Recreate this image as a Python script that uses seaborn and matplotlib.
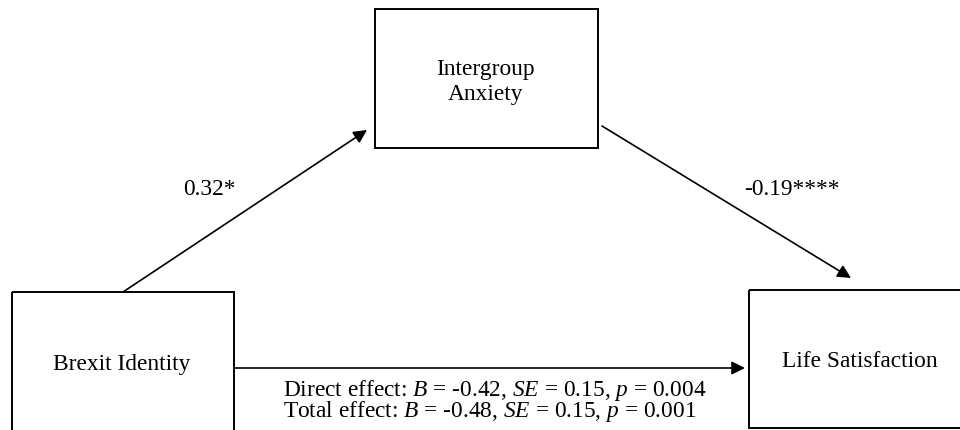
import matplotlib.pyplot as plt
from matplotlib.patches import Rectangle
import seaborn as sns

# mediation model
node_names = ["Brexit Identity", "Intergroup\nAnxiety", "Life Satisfaction"]
path_a = "0.32*"
path_b = "-0.19****"
direct_B, direct_SE, direct_p = "-0.42", "0.15", "0.004"
total_B, total_SE, total_p = "-0.48", "0.15", "0.001"

# layout in pixels (x0, y0, x1, y1), y grows downward
boxes = [(12, 293, 234, 445), (375, 10, 598, 149), (749, 291, 965, 429)]

sns.set_theme(style="white")
plt.rcParams['font.family'] = ['Liberation Serif', 'DejaVu Serif']
plt.rcParams['mathtext.fontset'] = 'custom'
plt.rcParams['mathtext.rm'] = 'Liberation Serif'
plt.rcParams['mathtext.it'] = 'Liberation Serif:italic'
plt.rcParams['text.color'] = 'black'

fig = plt.figure(figsize=(9.6, 4.31), dpi=100)
ax = fig.add_axes([0, 0, 1, 1])
ax.set_xlim(0, 960)
ax.set_ylim(431, 0)
ax.axis('off')

fs = 16.8
centers = [(122, 365), (486, 82), (860, 362)]
for (x0, y0, x1, y1), name, (cx, cy) in zip(boxes, node_names, centers):
    ax.add_patch(Rectangle((x0, y0), x1 - x0, y1 - y0, fill=False, ec='black', lw=1.4))
    ax.text(cx, cy, name, ha='center', va='center', fontsize=fs, linespacing=1.2)

arrow = dict(arrowstyle='-|>', color='black', lw=1.2, mutation_scale=20, shrinkA=0, shrinkB=0)
ax.annotate("", xy=(367, 131), xytext=(123, 293), arrowprops=arrow)
ax.annotate("", xy=(851, 279), xytext=(602, 127), arrowprops=arrow)
ax.annotate("", xy=(745, 369), xytext=(235, 369), arrowprops=arrow)

ax.text(209, 190, path_a, ha='center', va='center', fontsize=fs)
ax.text(792, 190, path_b, ha='center', va='center', fontsize=fs)

effects = (f"Direct effect: $B$ = {direct_B}, $SE$ = {direct_SE}, $p$ = {direct_p}\n"
           f"Total effect: $B$ = {total_B}, $SE$ = {total_SE}, $p$ = {total_p}")
ax.text(283, 401, effects, ha='left', va='center', fontsize=fs, linespacing=0.8)

fig.savefig("out.png", dpi=100, facecolor='white')
